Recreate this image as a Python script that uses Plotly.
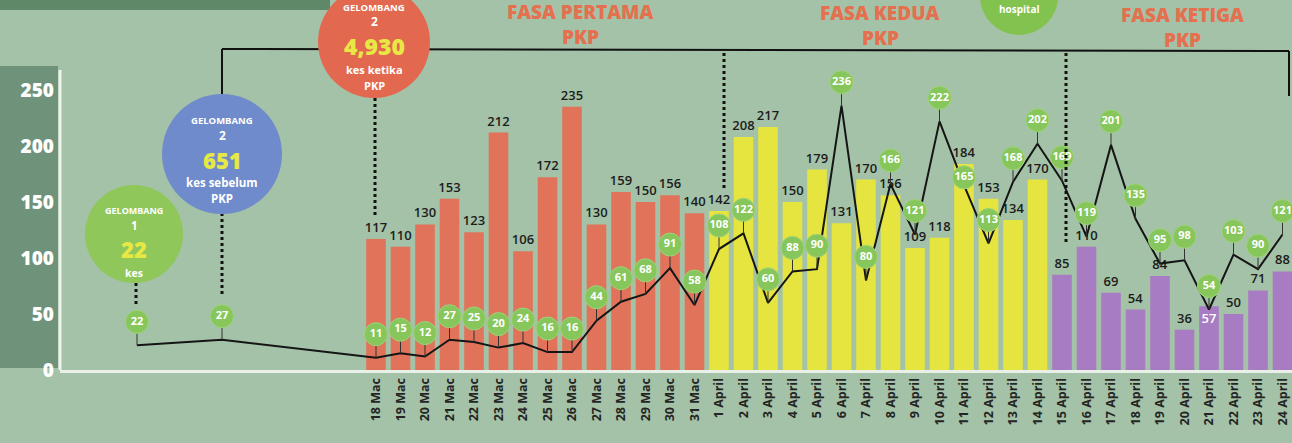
import plotly.graph_objects as go

# ---------------- data ----------------
dates = ["18 Mac", "19 Mac", "20 Mac", "21 Mac", "22 Mac", "23 Mac", "24 Mac",
         "25 Mac", "26 Mac", "27 Mac", "28 Mac", "29 Mac", "30 Mac", "31 Mac",
         "1 April", "2 April", "3 April", "4 April", "5 April", "6 April", "7 April",
         "8 April", "9 April", "10 April", "11 April", "12 April", "13 April", "14 April",
         "15 April", "16 April", "17 April", "18 April", "19 April", "20 April",
         "21 April", "22 April", "23 April", "24 April"]
new_cases = [117, 110, 130, 153, 123, 212, 106, 172, 235, 130, 159, 150, 156, 140,
             142, 208, 217, 150, 179, 131, 170, 156, 109, 118, 184, 153, 134, 170,
             85, 110, 69, 54, 84, 36, 57, 50, 71, 88]
recovered = [11, 15, 12, 27, 25, 20, 24, 16, 16, 44, 61, 68, 91, 58,
             108, 122, 60, 88, 90, 236, 80, 166, 121, 222, 165, 113, 168, 202,
             169, 119, 201, 135, 95, 98, 54, 103, 90, 121]
early_recovered = [22, 27]          # Gelombang 1, Gelombang 2 (sebelum PKP)
phase_titles = ["FASA PERTAMA", "FASA KEDUA", "FASA KETIGA"]
phase_days = [14, 14, 10]
phase_colors = ["#E0735A", "#E6E43E", "#A77CC2"]
yticks = [0, 50, 100, 150, 200, 250]

# ---------------- geometry (pixels of the 1292x443 page) ----------------
W, H = 1292, 443
ML, MB = 60, 73
PLOT_BOTTOM = H - MB          # 370
X0, STEP = 376, 24.5          # pixel of first day, pixel per day
PXU = 1.12                    # pixels per case

def xd(px):
    return (px - X0) / STEP

def xp(px):
    return (px - ML) / (W - ML)

def yp(py):
    return (PLOT_BOTTOM - py) / PLOT_BOTTOM

idx = list(range(len(dates)))
bar_colors = []
for c, n in zip(phase_colors, phase_days):
    bar_colors += [c] * n

label_inside = [d == "21 April" for d in dates]

early_x = [xd(137), xd(222)]
line_x = early_x + idx
line_y = early_recovered + recovered
OFF = 21

# circle centres: OFF above each point, but kept under the bar's value label
circle_y = [v + OFF for v in early_recovered]
for v, b, ins in zip(recovered, new_cases, label_inside):
    cy = v + OFF
    if not ins and 0 < b - v < 33:
        cy = min(cy, b - 12)
    circle_y.append(cy)
stems = [c - v for c, v in zip(circle_y, line_y)]

BG = "#A4C2A7"
FONT = "Open Sans"

fig = go.Figure()

fig.add_trace(go.Bar(
    x=idx, y=new_cases, marker=dict(color=bar_colors, line=dict(width=0)),
    width=0.8, text=new_cases, texttemplate="%{text}",
    textposition=["inside" if i else "outside" for i in label_inside],
    insidetextanchor="end",
    outsidetextfont=dict(color="#1c1c1c", size=13, family=FONT, weight=600),
    insidetextfont=dict(color="white", size=13, family=FONT, weight=600),
    constraintext="none", cliponaxis=False, hoverinfo="skip", showlegend=False))

fig.add_trace(go.Scatter(
    x=line_x, y=line_y, mode="lines", line=dict(color="#151515", width=2),
    hoverinfo="skip", showlegend=False))

fig.add_trace(go.Scatter(
    x=line_x, y=circle_y, mode="markers+text",
    marker=dict(size=23, color="#86C65A", line=dict(color="#9ED37A", width=1)),
    text=[str(v) for v in line_y], textposition="middle center",
    textfont=dict(color="white", size=11, family=FONT, weight=700),
    error_y=dict(type="data", symmetric=False, array=[0] * len(line_y),
                 arrayminus=stems, color="#333", thickness=1, width=0),
    cliponaxis=False, hoverinfo="skip", showlegend=False))

shapes = []
# top dark strip and left axis band
shapes.append(dict(type="rect", xref="paper", yref="paper", x0=xp(0), x1=xp(330),
                   y0=yp(0), y1=yp(10), fillcolor="#5F8868", line=dict(width=0), layer="below"))
shapes.append(dict(type="rect", xref="paper", yref="paper", x0=xp(0), x1=xp(58),
                   y0=yp(368), y1=yp(66), fillcolor="#6F937A", line=dict(width=0), layer="below"))
# white y axis line
shapes.append(dict(type="line", xref="paper", yref="paper", x0=xp(60), x1=xp(60),
                   y0=yp(370), y1=yp(70), line=dict(color="#EEF3EC", width=3)))
# bracket lines
blk = dict(color="#111", width=2)
shapes.append(dict(type="line", xref="paper", yref="paper", x0=xp(222), x1=xp(1289),
                   y0=yp(49), y1=yp(51), line=blk))
shapes.append(dict(type="line", xref="paper", yref="paper", x0=xp(222), x1=xp(222),
                   y0=yp(49), y1=yp(96), line=blk))
shapes.append(dict(type="line", xref="paper", yref="paper", x0=xp(1289), x1=xp(1289),
                   y0=yp(51), y1=yp(96), line=blk))
dot = dict(color="#111", width=3, dash="dot")
for (x, ya, yb) in [(375, 98, 216), (222, 213, 294), (136, 283, 304),
                    (724, 53, 190), (1066, 53, 243)]:
    shapes.append(dict(type="line", xref="paper", yref="paper", x0=xp(x), x1=xp(x),
                       y0=yp(ya), y1=yp(yb), line=dot))
# info circles
for (cx, cy, r, col) in [(134, 234, 49, "#8FC75B"), (222, 154, 60, "#6F8BCB"),
                         (374, 42, 56, "#E2694F"), (1019, -4, 39, "#82C24E")]:
    shapes.append(dict(type="circle", xref="paper", yref="paper",
                       x0=xp(cx - r), x1=xp(cx + r), y0=yp(cy + r), y1=yp(cy - r),
                       fillcolor=col, line=dict(width=0)))

ann = []
def txt(s, x, y, size, color="white", weight=700):
    ann.append(dict(text=s, xref="paper", yref="paper", x=xp(x), y=yp(y),
                    showarrow=False, xanchor="center", yanchor="middle", borderpad=0,
                    font=dict(size=size, color=color, family=FONT, weight=weight)))

YEL = "#E7E843"
txt("GELOMBANG", 134, 210, 9)
txt("1", 134, 225, 11.5)
txt(str(22), 134, 249, 22, YEL, 800)
txt("kes", 134, 273, 10.5)
txt("GELOMBANG", 222, 120, 9.5)
txt("2", 222, 135, 12)
txt("651", 222, 160, 22, YEL, 800)
txt("kes sebelum", 222, 182, 11.5)
txt("PKP", 222, 198, 11.5)
txt("GELOMBANG", 374, 7, 9.5)
txt("2", 374, 22, 12)
txt("4,930", 374, 46, 23, YEL, 800)
txt("kes ketika", 374, 69, 11)
txt("PKP", 374, 85, 11)
txt("hospital", 1019, 9, 10)
ORG = "#E4704F"
for title, cx, y1 in [(phase_titles[0], 580, 12), (phase_titles[1], 880, 13),
                      (phase_titles[2], 1182, 15)]:
    txt(title, cx, y1, 19, ORG, 800)
    txt("PKP", cx, y1 + 25, 19, ORG, 800)

fig.update_layout(
    width=W, height=H, margin=dict(l=ML, r=0, t=0, b=MB),
    paper_bgcolor=BG, plot_bgcolor=BG, bargap=0.2,
    shapes=shapes, annotations=ann, showlegend=False,
    xaxis=dict(range=[xd(ML), xd(W)], tickvals=idx, ticktext=dates, tickangle=-90,
               tickfont=dict(size=12.5, color="#252525", family=FONT, weight=700),
               ticklabeloverflow="allow",
               showgrid=False, zeroline=False, showline=True, linecolor="#E9F0E7",
               linewidth=3, ticks="", fixedrange=True),
    yaxis=dict(range=[0, PLOT_BOTTOM / PXU], tickvals=yticks,
               tickfont=dict(size=19, color="white", family=FONT, weight=800),
               showgrid=False, zeroline=False, showline=False, ticks="",
               ticklabelstandoff=5, fixedrange=True),
)

fig.write_html("out.html")
